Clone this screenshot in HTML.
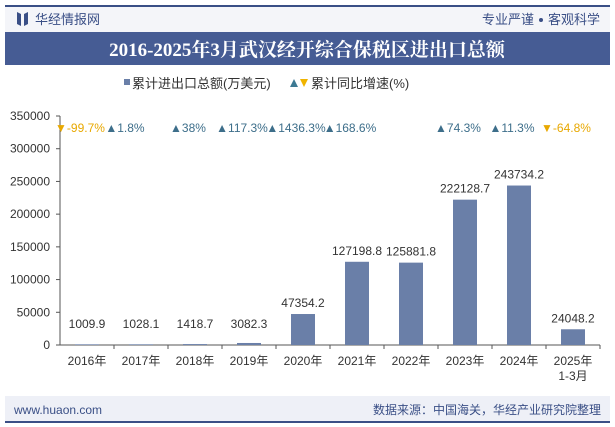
<!DOCTYPE html>
<html><head><meta charset="utf-8"><style>
body{margin:0;width:615px;height:427px;background:#fff;font-family:"Liberation Sans","Noto Sans CJK SC",sans-serif;overflow:hidden;position:relative}
</style></head><body>
<svg width="615" height="427" xmlns="http://www.w3.org/2000/svg" style="position:absolute;left:0;top:0">
<rect x="5" y="5" width="605" height="2" fill="#3a4f86"/>
<rect x="5" y="7" width="605" height="25" fill="#f4f5f9"/>
<path d="M17 12 L21 14 L21 26 L17 24Z M28 12 L24 14 L24 26 L28 24Z" fill="#3a4f86"/>
<text x="35" y="24" font-size="13" fill="#3a4f86">华经情报网</text>
<text x="534" y="24" font-size="13" fill="#3a4f86" text-anchor="end">专业严谨</text>
<circle cx="541" cy="20" r="2" fill="#3a4f86"/>
<text x="600" y="24" font-size="13" fill="#3a4f86" text-anchor="end">客观科学</text>
<rect x="5" y="32" width="605" height="33" fill="#465c94"/>
<text x="307" y="56" font-size="19" font-weight="bold" fill="#fff" text-anchor="middle" font-family="'Liberation Serif','Noto Serif CJK SC',serif">2016-2025年3月武汉经开综合保税区进出口总额</text>
<rect x="124" y="79" width="6" height="6" fill="#6a7fa8"/>
<text x="132" y="88" font-size="13" fill="#333">累计进出口总额(万美元)</text>
<path d="M290 87 L294 79 L298 87Z" fill="#3d7a93"/>
<path d="M300 79 L308 79 L304 87Z" fill="#f0b400"/>
<text x="311" y="88" font-size="13" fill="#333">累计同比增速(%)</text>
<g id="axes"></g>
<g id="bars"></g>
<g id="growth"></g>
<rect x="5" y="396" width="605" height="25" fill="#eef0f7"/>
<text x="14" y="414" font-size="12" fill="#3a4f86">www.huaon.com</text>
<text x="601" y="414" font-size="12" fill="#3a4f86" text-anchor="end">数据来源：中国海关，华经产业研究院整理</text>
<rect x="5" y="421" width="605" height="2" fill="#3a4f86"/>
</svg>
<script>
const categories=["2016年","2017年","2018年","2019年","2020年","2021年","2022年","2023年","2024年","2025年|1-3月"];
const values=[1009.9,1028.1,1418.7,3082.3,47354.2,127198.8,125881.8,222128.7,243734.2,24048.2];
const growth=[-99.7,1.8,38,117.3,1436.3,168.6,null,74.3,11.3,-64.8];
const yTicks=[0,50000,100000,150000,200000,250000,300000,350000];
const NS="http://www.w3.org/2000/svg";
const x0=60,step=54,y0=345,yTop=116,yMax=350000;
const xC=i=>x0+step*(i+0.5);
const yS=v=>y0-(v/yMax)*(y0-yTop);
function mk(t,a,p){const e=document.createElementNS(NS,t);for(const k in a)e.setAttribute(k,a[k]);p.appendChild(e);return e;}
const ax=document.getElementById('axes'),bg=document.getElementById('bars'),gg=document.getElementById('growth');
let l=mk('line',{x1:x0,y1:yTop,x2:x0,y2:y0,stroke:'#555'},ax);


l=mk('line',{x1:x0,y1:y0,x2:x0+step*categories.length,y2:y0,stroke:'#555'},ax);


yTicks.forEach(v=>{const y=yS(v);
 const t=mk('line',{x1:x0-4,y1:y,x2:x0,y2:y,stroke:'#555'},ax);
 
 
 const tx=mk('text',{x:x0-10,y:y+4,'font-size':12,fill:'#333','text-anchor':'end'},ax);tx.textContent=v;
 
 
});
categories.forEach((c,i)=>{
 const t=mk('line',{x1:x0+step*(i+1),y1:y0,x2:x0+step*(i+1),y2:y0+4,stroke:'#555'},ax);
 
 
 c.split('|').forEach((s,j)=>{const tx=mk('text',{x:xC(i),y:y0+20+j*15,'font-size':12,fill:'#333','text-anchor':'middle'},ax);tx.textContent=s;
  
  });
 const v=values[i],y=yS(v);
 const b=mk('rect',{x:xC(i)-12,y:y,width:24,height:y0-y,fill:'#6a7fa8'},bg);
 
 
 const lb=mk('text',{x:xC(i),y:Math.min(y,y0-10)-7,'font-size':12,fill:'#333','text-anchor':'middle'},bg);lb.textContent=v;
 
 
 const g=growth[i];if(g===null)return;
 const cx=xC(i)-(i==1?16:7),up=g>=0;
 const txt=(up?'▲':'▼')+g+'%';
 const gt=mk('text',{x:cx,y:132,'font-size':12,fill:up?'#3d6e8a':'#e8a800','text-anchor':'middle'},gg);gt.textContent=txt;
 
 
});
</script>
</body></html>
